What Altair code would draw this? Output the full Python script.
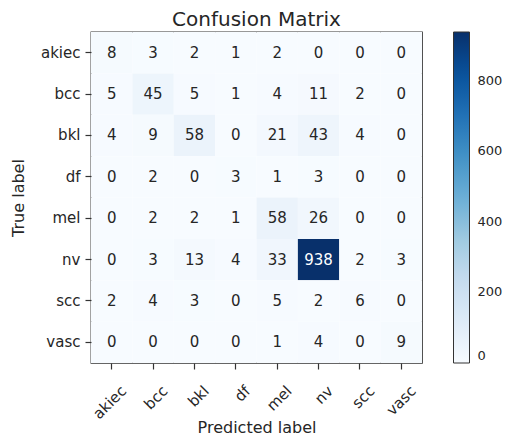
import altair as alt
import pandas as pd

labels = ["akiec", "bcc", "bkl", "df", "mel", "nv", "scc", "vasc"]
matrix = [
    [8, 3, 2, 1, 2, 0, 0, 0],
    [5, 45, 5, 1, 4, 11, 2, 0],
    [4, 9, 58, 0, 21, 43, 4, 0],
    [0, 2, 0, 3, 1, 3, 0, 0],
    [0, 2, 2, 1, 58, 26, 0, 0],
    [0, 3, 13, 4, 33, 938, 2, 3],
    [2, 4, 3, 0, 5, 2, 6, 0],
    [0, 0, 0, 0, 1, 4, 0, 9],
]
legend_values = [0, 200, 400, 600, 800]
blues = ["#f7fbff", "#deebf7", "#c6dbef", "#9ecae1", "#6baed6",
         "#4292c6", "#2171b5", "#08519c", "#08306b"]

rows = []
for i, t in enumerate(labels):
    for j, p in enumerate(labels):
        rows.append({"true": t, "pred": p, "count": matrix[i][j]})
df = pd.DataFrame(rows)

vmax = max(max(r) for r in matrix)
stops = [vmax * k / (len(blues) - 1) for k in range(len(blues))]
thresh = vmax / 2

W = 331
H = 331
FONT = "DejaVu Sans"
TXT = "#262626"

common_axis = dict(
    domain=False, grid=False, ticks=True, tickSize=6, tickColor="#333",
    tickWidth=1.2, labelFont=FONT, labelFontSize=15, labelColor=TXT,
    titleFont=FONT, titleFontSize=16, titleFontWeight="normal", titleColor=TXT,
)

x_enc = alt.X("pred:N", sort=labels,
              scale=alt.Scale(paddingInner=0, paddingOuter=0),
              axis=alt.Axis(title="Predicted label", labelAngle=315,
                            labelAlign="right", labelBaseline="middle",
                            labelOffset=12, labelPadding=19,
                            titleX=W / 2, titleY=69, titleBaseline="alphabetic",
                            titleAlign="center", **common_axis))
y_enc = alt.Y("true:N", sort=labels,
              scale=alt.Scale(paddingInner=0, paddingOuter=0),
              axis=alt.Axis(title="True label", labelPadding=5,
                            titleX=-68, titleY=H / 2, titleAngle=270,
                            titleBaseline="alphabetic", titleAlign="center",
                            **common_axis))

base = alt.Chart(df)

rect = base.mark_rect().encode(
    x=x_enc,
    y=y_enc,
    color=alt.Color("count:Q",
                    scale=alt.Scale(domain=stops, range=blues, interpolate="rgb"),
                    legend=alt.Legend(title=None, values=legend_values,
                                      orient="none", legendX=362.5, legendY=0,
                                      direction="vertical",
                                      gradientLength=H, gradientThickness=16,
                                      gradientStrokeColor="#333",
                                      gradientStrokeWidth=1,
                                      labelOffset=8, labelFontSize=13,
                                      labelFont=FONT, labelColor=TXT,
                                      labelBaseline="middle",
                                      labelOverlap=False)),
)

text = base.mark_text(fontSize=15, font=FONT, baseline="middle", align="center").encode(
    x=alt.X("pred:N", sort=labels),
    y=alt.Y("true:N", sort=labels),
    text="count:Q",
    color=alt.condition(f"datum.count > {thresh}", alt.value("white"), alt.value(TXT)),
)

chart = (
    alt.layer(rect, text)
    .properties(
        width=W,
        height=H,
        background="white",
        title=alt.TitleParams("Confusion Matrix", fontSize=20, font=FONT,
                              fontWeight="normal", color=TXT, anchor="middle",
                              offset=2),
        autosize=alt.AutoSizeParams(type="none"),
        padding={"left": 83, "top": 24, "right": 81, "bottom": 72},
    )
    .configure_view(stroke="#333", strokeWidth=1.3)
)

chart.save("out.html", embed_options={"renderer": "svg", "actions": False})
